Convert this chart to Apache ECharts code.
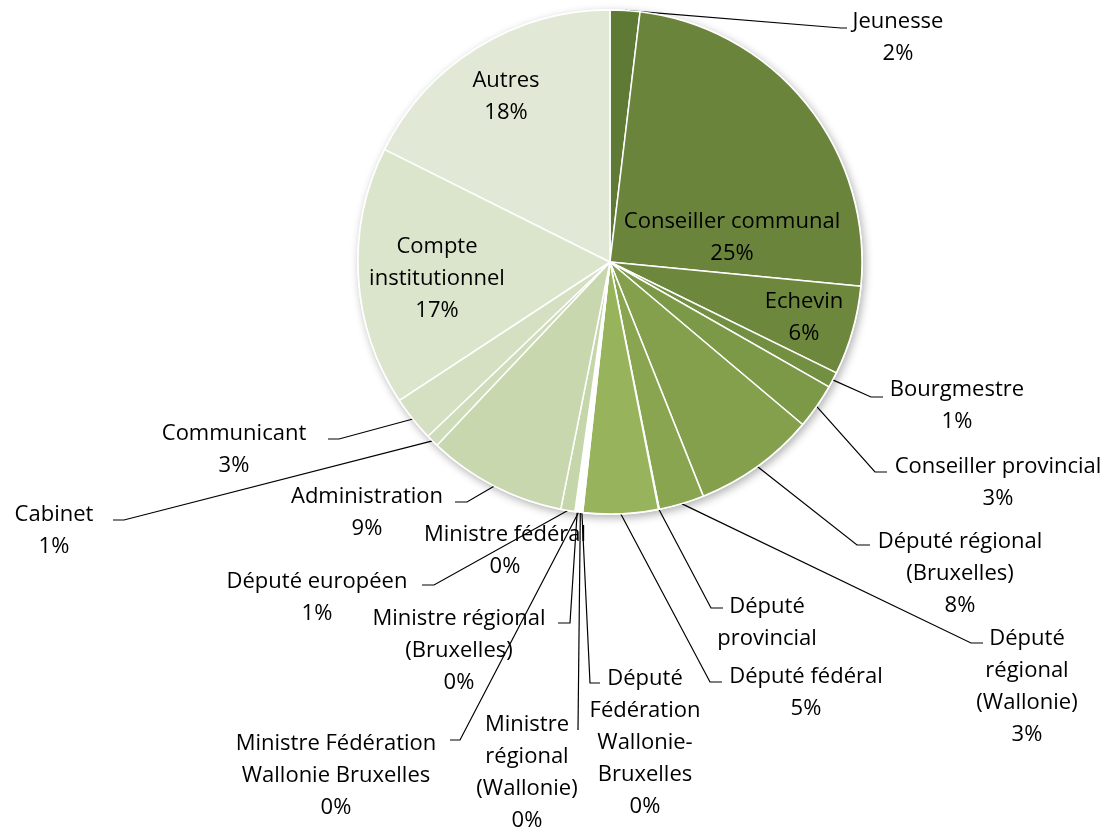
<!DOCTYPE html>
<html>
<head>
<meta charset="utf-8">
<script src="https://cdn.jsdelivr.net/npm/echarts@6/dist/echarts.min.js"></script>
<style>
  html, body { margin: 0; padding: 0; background: #fff; }
  #chart { width: 1115px; height: 828px; }
</style>
</head>
<body>
<div id="chart"></div>
<script>
// categories, clockwise from 12 o'clock
var categories = [
    'Jeunesse', 'Conseiller communal', 'Echevin', 'Bourgmestre',
    'Conseiller provincial', 'Député régional (Bruxelles)', 'Député régional (Wallonie)',
    'Député provincial', 'Député fédéral', 'Député Fédération Wallonie-Bruxelles',
    'Ministre régional (Wallonie)', 'Ministre Fédération Wallonie Bruxelles',
    'Ministre régional (Bruxelles)', 'Ministre fédéral', 'Député européen',
    'Administration', 'Cabinet', 'Communicant', 'Compte institutionnel', 'Autres'
];

// share of accounts (%)
var shares = [1.9, 24.6, 5.7, 1.0, 2.9, 7.8, 2.9, 0.05, 4.8, 0.1,
              0.1, 0.1, 0.1, 0.1, 0.9, 8.9, 0.8, 2.9, 16.6, 17.6];

// wrapped label text as it appears on the chart
var labelText = [
    'Jeunesse', 'Conseiller communal', 'Echevin', 'Bourgmestre',
    'Conseiller provincial', 'Député régional\n(Bruxelles)', 'Député\nrégional\n(Wallonie)',
    'Député\nprovincial', 'Député fédéral', 'Député\nFédération\nWallonie-\nBruxelles',
    'Ministre\nrégional\n(Wallonie)', 'Ministre Fédération\nWallonie Bruxelles',
    'Ministre régional\n(Bruxelles)', 'Ministre fédéral', 'Député européen',
    'Administration', 'Cabinet', 'Communicant', 'Compte\ninstitutionnel', 'Autres'
];
var noPercent = [7];
var insideLabels = [1, 2, 18, 19];
var noLeader = [13];

var palette = [
    '#5e7a35', '#6b843c', '#6d873d', '#738f41', '#7b9946', '#85a04c', '#89a54f',
    '#8faa53', '#97b35b', '#a3bd6c', '#aec57d', '#b7cb8c', '#bdd098', '#c2d3a2',
    '#c6d6ab', '#c8d7ae', '#cfdcb9', '#d5e0c3', '#dbe5cc', '#e1e9d6'
];

// label placement: [text centre x, first line y, leader end x, leader end y, elbow]
var labelPos = [
    [898, 22, 847, 28, 6],
    [732, 222],
    [804, 302],
    [957, 390, 883, 397, 12],
    [998, 467, 887, 472, 12],
    [960, 542, 870, 545, 13],
    [1027, 639, 983, 643, 12],
    [767, 607, 723, 608, 12],
    [806, 677, 722, 682, 12],
    [645, 679, 600, 683, 10],
    [527, 725, 578, 730, 0],
    [336, 744, 450, 740, 10],
    [459, 619, 558, 623, 12],
    [505, 535],
    [317, 582, 422, 585, 12],
    [367, 497, 455, 502, 12],
    [54, 515, 113, 520, 11],
    [234, 434, 328, 439, 11],
    [437, 247],
    [506, 81]
];

var LINE_H = 32;

function lineCount(i) {
    var n = labelText[i].split('\n').length;
    if (noPercent.indexOf(i) < 0) n++;
    return n;
}

var pieData = categories.map(function (name, i) {
    var item = { name: name, value: shares[i] };
    if (insideLabels.indexOf(i) >= 0)
        item.label = { position: 'inside' };
    if (noLeader.indexOf(i) >= 0)
        item.labelLine = { show: false };
    return item;
});

var chart = echarts.init(document.getElementById('chart'));

chart.setOption({
    backgroundColor: '#fff',
    animation: false,
    color: palette,
    series: [
        {
            // backdrop for the soft shadow under the pie
            type: 'pie',
            silent: true,
            z: 1,
            center: [610, 262],
            radius: 253,
            label: { show: false },
            labelLine: { show: false },
            itemStyle: {
                color: '#fff',
                shadowBlur: 8,
                shadowColor: 'rgba(0,0,0,0.3)',
                shadowOffsetX: 2,
                shadowOffsetY: 3
            },
            data: [{ value: 1, name: '' }]
        },
        {
            type: 'pie',
            z: 2,
            center: [610, 262],
            radius: 252,
            startAngle: 90,
            clockwise: true,
            avoidLabelOverlap: false,
            itemStyle: { borderColor: '#fff', borderWidth: 1.5 },
            label: {
                show: true,
                position: 'outside',
                fontFamily: 'Open Sans',
                fontSize: 22,
                lineHeight: LINE_H,
                color: '#000',
                align: 'center',
                overflow: 'none',
                formatter: function (p) {
                    var t = labelText[p.dataIndex];
                    if (noPercent.indexOf(p.dataIndex) < 0)
                        t += '\n' + Math.round(p.percent) + '%';
                    return t;
                }
            },
            labelLine: {
                show: true,
                smooth: false,
                lineStyle: { color: '#000', width: 1.2 }
            },
            labelLayout: function (p) {
                var L = labelPos[p.dataIndex];
                var n = lineCount(p.dataIndex);
                var out = {
                    x: L[0],
                    y: L[1] + (n - 1) * LINE_H / 2,
                    align: 'center',
                    verticalAlign: 'middle'
                };
                if (L.length > 2 && p.labelLinePoints) {
                    var s = p.labelLinePoints[0];
                    var bx = L[2] > L[0] ? L[2] + L[4] : L[2] - L[4];
                    out.labelLinePoints = [[s[0], s[1]], [bx, L[3]], [L[2], L[3]]];
                }
                return out;
            },
            data: pieData
        }
    ]
});
</script>
</body>
</html>
